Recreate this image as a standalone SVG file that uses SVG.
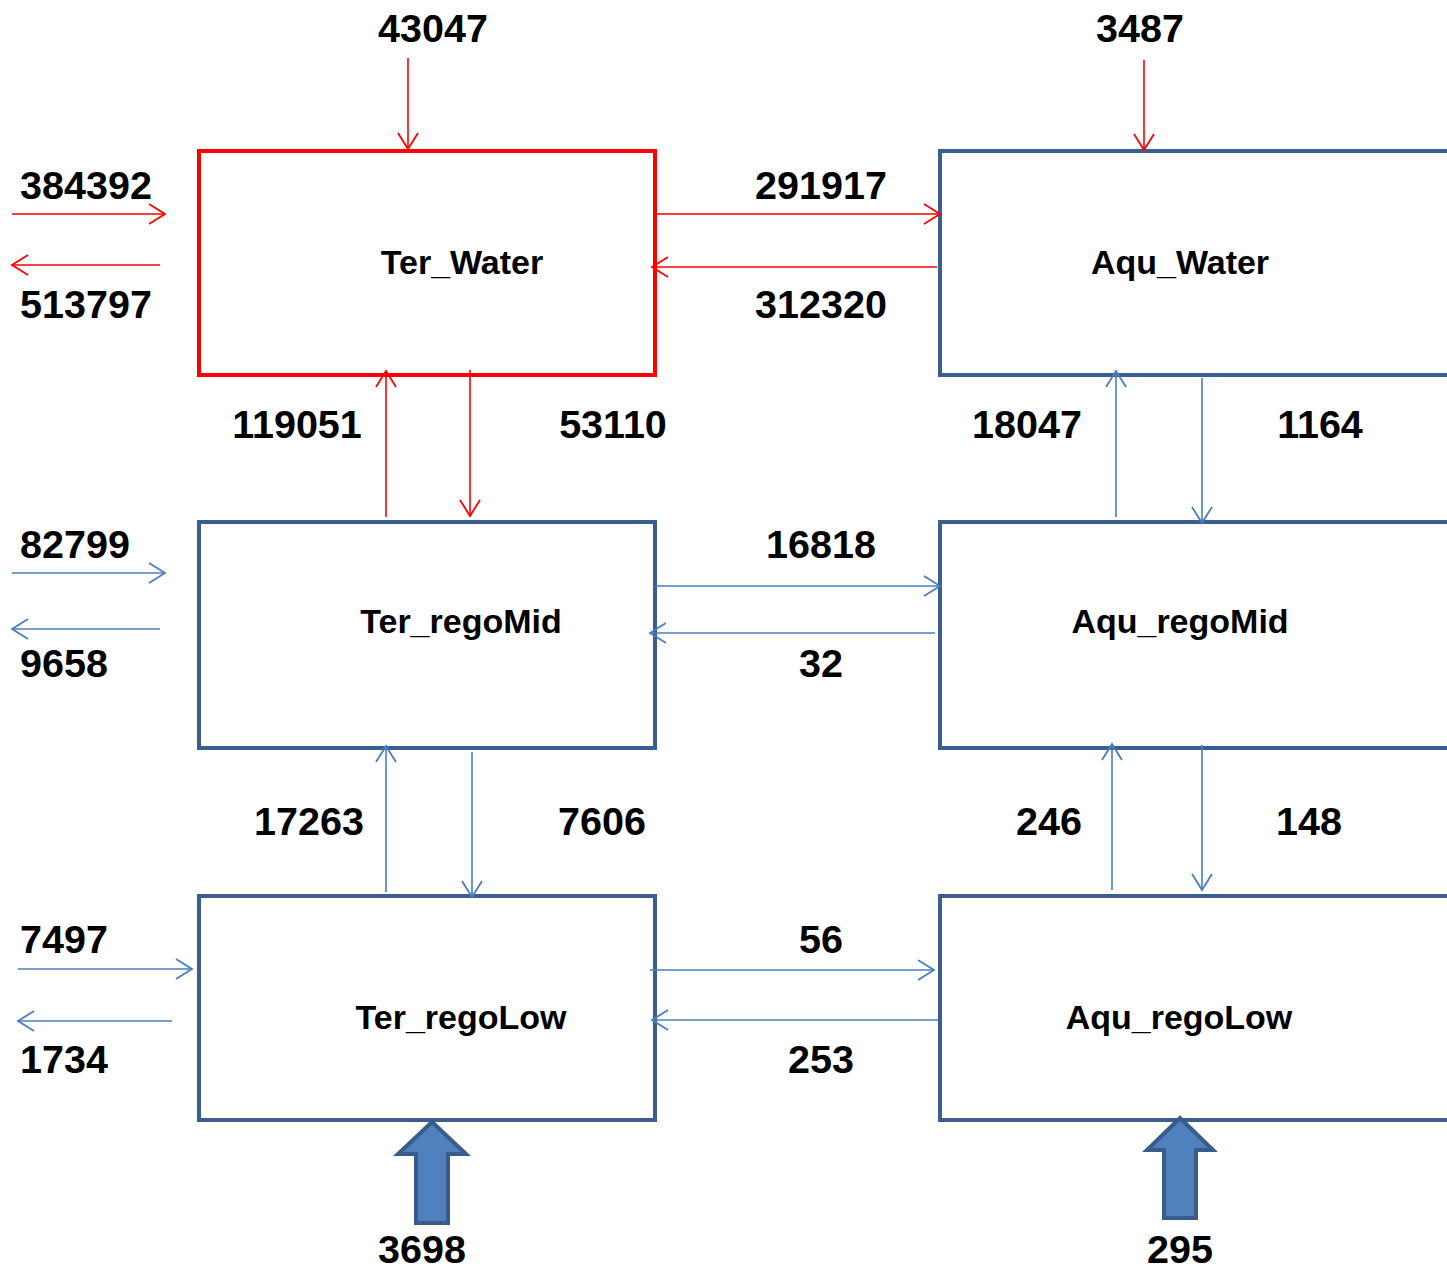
<svg xmlns="http://www.w3.org/2000/svg" width="1447" height="1272" viewBox="0 0 1447 1272">
<style>
.box{fill:#fff;stroke:#3A5F8E;stroke-width:4;}
.red{stroke:#FF0000;}
.lbl{font-family:"Liberation Sans",Arial,sans-serif;font-weight:bold;font-size:34px;fill:#000;text-anchor:middle;}
.num{font-family:"Liberation Sans",Arial,sans-serif;font-weight:bold;font-size:39.5px;fill:#000;text-anchor:middle;}
.cr{stroke:#FF0000;stroke-width:1.6;fill:none;marker-end:url(#ar);}
.cb{stroke:#4A7EBB;stroke-width:1.6;fill:none;marker-end:url(#ab);}
.blk{fill:#4F81BD;stroke:#385D8A;stroke-width:4;stroke-linejoin:miter;}
</style>
<defs>
<marker id="ar" markerUnits="userSpaceOnUse" markerWidth="24" markerHeight="26" refX="19" refY="13" orient="auto">
<path d="M3,3 L19,13 L3,23" fill="none" stroke="#FF0000" stroke-width="1.8"/>
</marker>
<marker id="ab" markerUnits="userSpaceOnUse" markerWidth="24" markerHeight="26" refX="19" refY="13" orient="auto">
<path d="M3,3 L19,13 L3,23" fill="none" stroke="#4A7EBB" stroke-width="1.8"/>
</marker>
</defs>
<rect width="1447" height="1272" fill="#fff"/>

<g id="Ter_Water">
<rect class="box red" x="199" y="151" width="456" height="224"/>
<text class="lbl" x="462" y="274">Ter_Water</text>
</g>
<g id="Aqu_Water">
<rect class="box" x="940" y="151" width="520" height="224"/>
<text class="lbl" x="1180" y="274">Aqu_Water</text>
</g>
<g id="Ter_regoMid">
<rect class="box" x="199" y="522" width="456" height="226"/>
<text class="lbl" x="461" y="633">Ter_regoMid</text>
</g>
<g id="Aqu_regoMid">
<rect class="box" x="940" y="522" width="520" height="226"/>
<text class="lbl" x="1180" y="633">Aqu_regoMid</text>
</g>
<g id="Ter_regoLow">
<rect class="box" x="199" y="896" width="456" height="224"/>
<text class="lbl" x="461" y="1029">Ter_regoLow</text>
</g>
<g id="Aqu_regoLow">
<rect class="box" x="940" y="896" width="520" height="224"/>
<text class="lbl" x="1179" y="1029">Aqu_regoLow</text>
</g>

<g id="connectors">
<line class="cr" x1="408" y1="58" x2="408" y2="149"/>
<line class="cr" x1="1144" y1="60" x2="1144" y2="150"/>
<line class="cr" x1="12" y1="214" x2="165" y2="214"/>
<line class="cr" x1="160" y1="265" x2="12" y2="265"/>
<line class="cr" x1="655" y1="214" x2="940" y2="214"/>
<line class="cr" x1="937" y1="267" x2="652" y2="267"/>
<line class="cr" x1="386" y1="517" x2="386" y2="371"/>
<line class="cr" x1="470" y1="370" x2="470" y2="516"/>
<line class="cb" x1="1116" y1="517" x2="1116" y2="371"/>
<line class="cb" x1="1202" y1="378" x2="1202" y2="523"/>
<line class="cb" x1="12" y1="573" x2="165" y2="573"/>
<line class="cb" x1="160" y1="629" x2="12" y2="629"/>
<line class="cb" x1="655" y1="586" x2="940" y2="586"/>
<line class="cb" x1="935" y1="633" x2="650" y2="633"/>
<line class="cb" x1="386" y1="892" x2="386" y2="746"/>
<line class="cb" x1="472" y1="752" x2="472" y2="897"/>
<line class="cb" x1="1112" y1="890" x2="1112" y2="744"/>
<line class="cb" x1="1202" y1="745" x2="1202" y2="890"/>
<line class="cb" x1="18" y1="969" x2="192" y2="969"/>
<line class="cb" x1="172" y1="1021" x2="18" y2="1021"/>
<line class="cb" x1="650" y1="970" x2="934" y2="970"/>
<line class="cb" x1="938" y1="1020" x2="652" y2="1020"/>
<polygon class="blk" points="432,1122 466,1154 448,1154 448,1223 416,1223 416,1154 398,1154"/>
<polygon class="blk" points="1180,1118 1213,1150 1196,1150 1196,1218 1164,1218 1164,1150 1147,1150"/>
</g>

<g id="labels">
<text class="num" x="433" y="42">43047</text>
<text class="num" x="1140" y="42">3487</text>
<text class="num" x="86" y="199">384392</text>
<text class="num" x="86" y="318">513797</text>
<text class="num" x="821" y="199">291917</text>
<text class="num" x="821" y="318">312320</text>
<text class="num" x="297" y="438">119051</text>
<text class="num" x="613" y="438">53110</text>
<text class="num" x="1027" y="438">18047</text>
<text class="num" x="1320" y="438">1164</text>
<text class="num" x="75" y="558">82799</text>
<text class="num" x="64" y="677">9658</text>
<text class="num" x="821" y="558">16818</text>
<text class="num" x="821" y="677">32</text>
<text class="num" x="309" y="835">17263</text>
<text class="num" x="602" y="835">7606</text>
<text class="num" x="1049" y="835">246</text>
<text class="num" x="1309" y="835">148</text>
<text class="num" x="64" y="953">7497</text>
<text class="num" x="64" y="1073">1734</text>
<text class="num" x="821" y="953">56</text>
<text class="num" x="821" y="1073">253</text>
<text class="num" x="422" y="1263">3698</text>
<text class="num" x="1180" y="1263">295</text>
</g>
</svg>
